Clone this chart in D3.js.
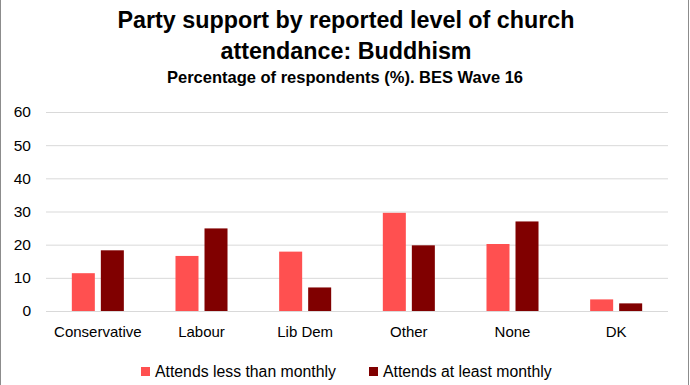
<!DOCTYPE html>
<html>
<head>
<meta charset="utf-8">
<script src="https://cdn.jsdelivr.net/npm/d3@7"></script>
<style>
  body { margin: 0; background: #fff; }
  svg { display: block; font-family: "Liberation Sans", Arial, sans-serif; }
</style>
</head>
<body>
<div id="chart"></div>
<script>
// chart values
const categories = ["Conservative", "Labour", "Lib Dem", "Other", "None", "DK"];
const seriesNames = ["Attends less than monthly", "Attends at least monthly"];
const lessThanMonthly = [11.4, 16.6, 17.9, 29.6, 20.2, 3.5];
const atLeastMonthly = [18.3, 24.9, 7.1, 19.8, 27.0, 2.3];
const yTicks = [0, 10, 20, 30, 40, 50, 60];
const colors = ["#ff5050", "#800000"];

const width = 690, height = 385;
const margin = { top: 112, right: 22, bottom: 74, left: 46 };

const svg = d3
  .select("#chart")
  .append("svg")
  .attr("width", width)
  .attr("height", height);

// outer border (left / right edges of the chart area)
svg.append("g")
  .selectAll("line")
  .data([0.5, 688.5])
  .enter()
  .append("line")
  .attr("x1", (d) => d).attr("x2", (d) => d)
  .attr("y1", 0).attr("y2", height)
  .attr("stroke", "#8c8c8c");

const x0 = d3.scaleBand()
  .domain(categories)
  .range([margin.left, width - margin.right])
  .paddingInner(0)
  .paddingOuter(0);

const x1 = d3.scaleBand()
  .domain([0, 1])
  .range([0, x0.bandwidth()])
  .paddingInner(0.207)
  .paddingOuter(0.89);

const y = d3.scaleLinear()
  .domain([0, 60])
  .range([height - margin.bottom, margin.top]);

// gridlines
svg.append("g")
  .selectAll("line")
  .data(yTicks)
  .enter()
  .append("line")
  .attr("x1", margin.left)
  .attr("x2", width - margin.right)
  .attr("y1", (d) => y(d) + 0.5)
  .attr("y2", (d) => y(d) + 0.5)
  .attr("stroke", "#d9d9d9")
  .attr("stroke-width", 1);

// y axis labels
const yAxis = svg.append("g")
  .attr("transform", `translate(${margin.left - 15},0)`)
  .call(d3.axisLeft(y).tickValues(yTicks).tickSize(0).tickPadding(0));
yAxis.select(".domain").remove();
yAxis.selectAll("text")
  .attr("font-family", "Liberation Sans, sans-serif")
  .attr("font-size", 15.5)
  .attr("fill", "#000");

// bars
const rows = categories.map((c, i) => ({ cat: c, vals: [lessThanMonthly[i], atLeastMonthly[i]] }));

const groups = svg.append("g")
  .selectAll("g")
  .data(rows)
  .enter()
  .append("g")
  .attr("transform", (d) => `translate(${x0(d.cat)},0)`);

groups.selectAll("rect")
  .data((d) => d.vals.map((v, k) => ({ v, k })))
  .enter()
  .append("rect")
  .attr("x", (d) => x1(d.k))
  .attr("width", x1.bandwidth())
  .attr("y", (d) => y(d.v))
  .attr("height", (d) => y(0) - y(d.v))
  .attr("fill", (d) => colors[d.k]);

// category labels
const xAxis = svg.append("g")
  .attr("transform", `translate(0,${y(0) + 10})`)
  .call(d3.axisBottom(x0).tickSize(0).tickPadding(5));
xAxis.select(".domain").remove();
xAxis.selectAll("text")
  .attr("font-family", "Liberation Sans, sans-serif")
  .attr("font-size", 15)
  .attr("fill", "#000");

// titles
svg.append("text")
  .attr("x", 346).attr("y", 28)
  .attr("text-anchor", "middle")
  .attr("font-weight", "bold")
  .attr("font-size", 23.3)
  .text("Party support by reported level of church");
svg.append("text")
  .attr("x", 346).attr("y", 59)
  .attr("text-anchor", "middle")
  .attr("font-weight", "bold")
  .attr("font-size", 23.3)
  .text("attendance: Buddhism");
svg.append("text")
  .attr("x", 345).attr("y", 83)
  .attr("text-anchor", "middle")
  .attr("font-weight", "bold")
  .attr("font-size", 16.5)
  .text("Percentage of respondents (%). BES Wave 16");

// legend
const legendX = [141, 369];
const legend = svg.append("g")
  .selectAll("g")
  .data(seriesNames)
  .enter()
  .append("g")
  .attr("transform", (d, i) => `translate(${legendX[i]},367)`);
legend.append("rect")
  .attr("width", 9).attr("height", 9)
  .attr("fill", (d, i) => colors[i]);
legend.append("text")
  .attr("x", 14).attr("y", 10)
  .attr("font-size", 15.8)
  .text((d) => d);
</script>
</body>
</html>
